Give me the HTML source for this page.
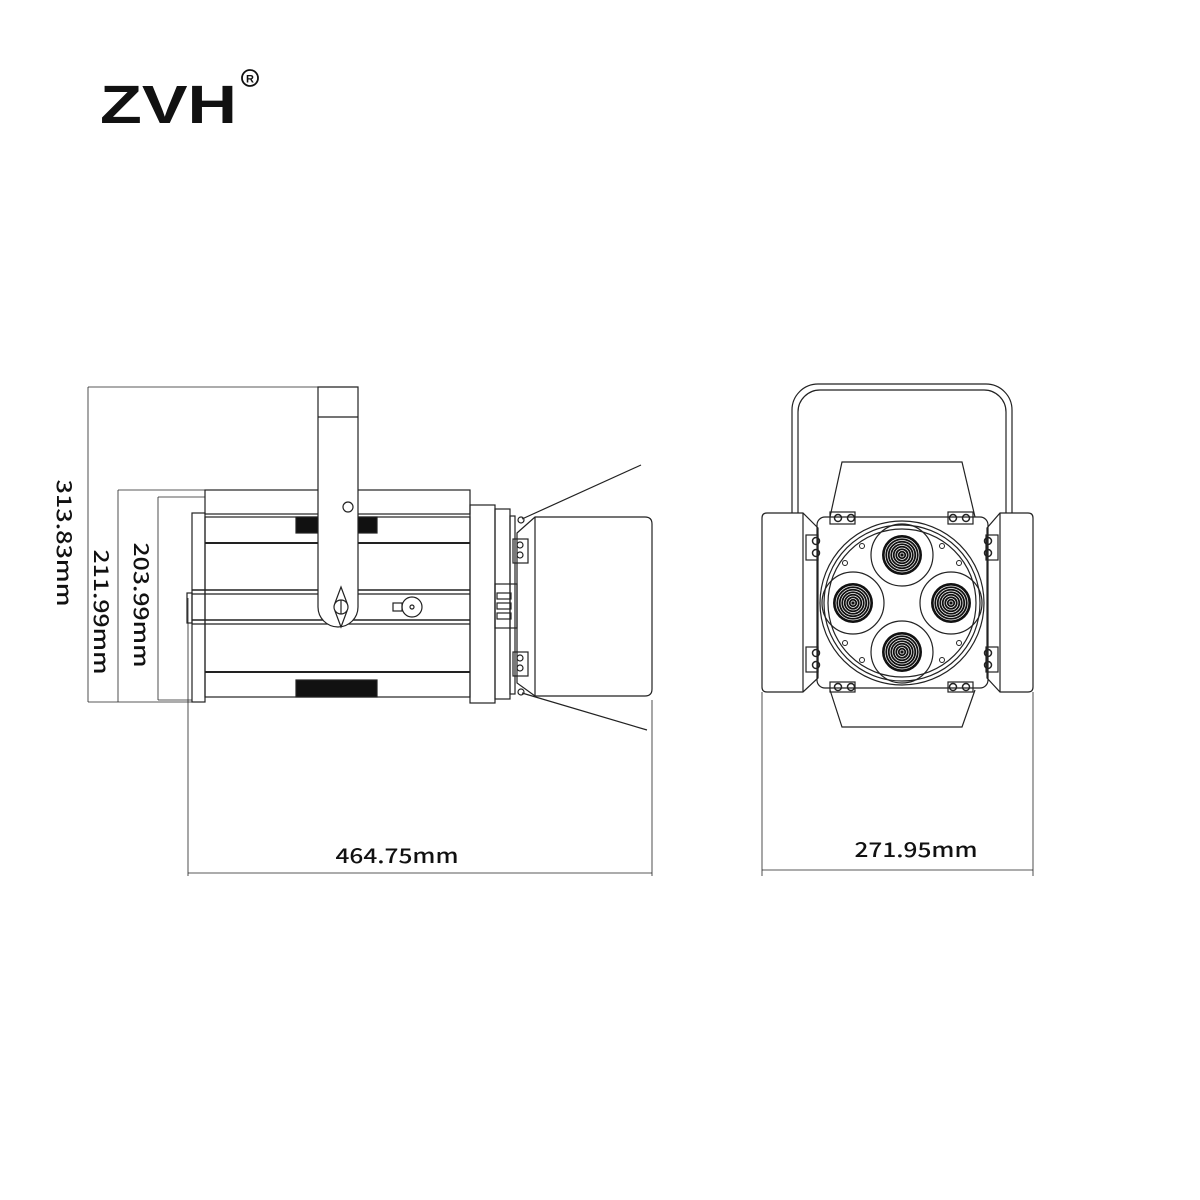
<!DOCTYPE html>
<html><head><meta charset="utf-8"><style>
html,body{margin:0;padding:0;background:#fff;width:1200px;height:1200px;overflow:hidden}
svg{display:block}
text{font-family:"Liberation Sans",sans-serif;fill:#111}
.d{font-family:"Noto Sans CJK SC","Liberation Sans",sans-serif;font-weight:500}
</style></head><body>
<svg width="1200" height="1200" viewBox="0 0 1200 1200" xmlns="http://www.w3.org/2000/svg">
<rect width="1200" height="1200" fill="#fff"/>
<!-- logo -->
<text x="100" y="123" font-size="54" font-weight="bold" textLength="137" lengthAdjust="spacingAndGlyphs">ZVH</text>
<circle cx="250" cy="78" r="8" fill="none" stroke="#111" stroke-width="1.8"/>
<text x="250" y="82.5" font-size="11" font-weight="bold" text-anchor="middle">R</text>

<g fill="none" stroke="#222" stroke-width="1.2">
<line x1="88" y1="387" x2="318" y2="387" stroke-width="0.8"/>
<line x1="88" y1="387" x2="88" y2="702" stroke-width="0.8"/>
<line x1="88" y1="702" x2="192" y2="702" stroke-width="0.8"/>
<line x1="118" y1="490" x2="470" y2="490" stroke-width="0.8"/>
<line x1="118" y1="490" x2="118" y2="702" stroke-width="0.8"/>
<line x1="158" y1="497" x2="205" y2="497" stroke-width="0.8"/>
<line x1="158" y1="497" x2="158" y2="700" stroke-width="0.8"/>
<line x1="158" y1="700" x2="192" y2="700" stroke-width="0.8"/>
<line x1="188" y1="598" x2="188" y2="876" stroke-width="0.8"/>
<line x1="652" y1="700" x2="652" y2="876" stroke-width="0.8"/>
<line x1="188" y1="873" x2="652" y2="873" stroke-width="0.8"/>

<rect x="205" y="490" width="265" height="24"/>
<rect x="192" y="513" width="13" height="189"/>
<rect x="187" y="593" width="5" height="30"/>
<rect x="205" y="517" width="265" height="180"/>
<line x1="205" y1="543" x2="470" y2="543" stroke-width="2"/>
<line x1="192" y1="590" x2="470" y2="590" stroke-width="1.6"/>
<line x1="192" y1="594" x2="470" y2="594"/>
<line x1="192" y1="620" x2="470" y2="620" stroke-width="1.6"/>
<line x1="192" y1="624" x2="470" y2="624"/>
<line x1="205" y1="672" x2="470" y2="672" stroke-width="2"/>
<rect x="296" y="517" width="81" height="16" fill="#111"/>
<rect x="296" y="680" width="81" height="17" fill="#111"/>
<rect x="470" y="505" width="25" height="198"/>
<rect x="495" y="509" width="15" height="190"/>
<rect x="510" y="516" width="5" height="178"/>
<rect x="495" y="584" width="22" height="44"/>
<rect x="497" y="593" width="14" height="6"/>
<rect x="497" y="603" width="14" height="6"/>
<rect x="497" y="613" width="14" height="6"/>
<rect x="513" y="539" width="15" height="24"/>
<rect x="513" y="652" width="15" height="24"/>
<circle cx="520" cy="545" r="3"/><circle cx="520" cy="555" r="3"/>
<circle cx="520" cy="658" r="3"/><circle cx="520" cy="668" r="3"/>
<circle cx="521" cy="520" r="3"/><circle cx="521" cy="692" r="3"/>
<line x1="522" y1="519" x2="641" y2="465"/>
<line x1="522" y1="693" x2="647" y2="730"/>
<path d="M517 533 L535 517 L645 517 Q652 517 652 524 L652 689 Q652 696 645 696 L535 696 L517 683 Z"/>
<line x1="535" y1="517" x2="535" y2="696"/>
<path d="M318 387 L358 387 L358 607 A20 20 0 0 1 318 607 Z" fill="#fff"/>
<line x1="318" y1="417" x2="358" y2="417"/>
<circle cx="348" cy="507" r="5"/>
<path d="M341 587 L347 603 L347 611 L341 627 L335 611 L335 603 Z" fill="#fff"/>
<circle cx="341" cy="607" r="7" fill="#fff"/>
<line x1="341" y1="600" x2="341" y2="614"/>
<circle cx="412" cy="607" r="10"/>
<circle cx="412" cy="607" r="2"/>
<rect x="393" y="603" width="9" height="8"/>

<line x1="762" y1="692" x2="762" y2="876" stroke-width="0.8"/>
<line x1="1033" y1="692" x2="1033" y2="876" stroke-width="0.8"/>
<line x1="762" y1="870" x2="1033" y2="870" stroke-width="0.8"/>
<path d="M792 513 L792 410 A26 26 0 0 1 818 384 L986 384 A26 26 0 0 1 1012 410 L1012 513"/>
<path d="M798 513 L798 412 A22 22 0 0 1 820 390 L984 390 A22 22 0 0 1 1006 412 L1006 513"/>
<path d="M762 518 Q762 513 767 513 L803 513 L818 528 L818 678 L803 692 L767 692 Q762 692 762 687 Z"/>
<line x1="803" y1="513" x2="803" y2="692"/>
<path d="M1033 518 Q1033 513 1028 513 L1000 513 L987 528 L987 678 L1000 692 L1028 692 Q1033 692 1033 687 Z"/>
<line x1="1000" y1="513" x2="1000" y2="692"/>
<path d="M830 517 L842 462 L962 462 L975 517"/>
<path d="M830 690 L842 727 L962 727 L975 690"/>
<rect x="817" y="517" width="171" height="171" rx="8"/>
<circle cx="902" cy="603" r="82"/>
<circle cx="902" cy="603" r="78"/>
<circle cx="902" cy="603" r="74"/>
<circle cx="902" cy="555" r="31"/>
<circle cx="853" cy="603" r="31"/>
<circle cx="951" cy="603" r="31"/>
<circle cx="902" cy="652" r="31"/>
<rect x="830" y="512" width="25" height="12"/>
<rect x="948" y="512" width="25" height="12"/>
<rect x="830" y="682" width="25" height="10"/>
<rect x="948" y="682" width="25" height="10"/>
<rect x="806" y="535" width="12" height="25"/>
<rect x="806" y="647" width="12" height="25"/>
<rect x="986" y="535" width="12" height="25"/>
<rect x="986" y="647" width="12" height="25"/>
<g stroke-width="1.5">
<circle cx="838" cy="518" r="3.5"/><circle cx="851" cy="518" r="3.5"/>
<circle cx="953" cy="518" r="3.5"/><circle cx="966" cy="518" r="3.5"/>
<circle cx="838" cy="687" r="3.5"/><circle cx="851" cy="687" r="3.5"/>
<circle cx="953" cy="687" r="3.5"/><circle cx="966" cy="687" r="3.5"/>
<circle cx="816" cy="541" r="3.5"/><circle cx="816" cy="553" r="3.5"/>
<circle cx="816" cy="653" r="3.5"/><circle cx="816" cy="665" r="3.5"/>
<circle cx="988" cy="541" r="3.5"/><circle cx="988" cy="553" r="3.5"/>
<circle cx="988" cy="653" r="3.5"/><circle cx="988" cy="665" r="3.5"/>
</g>
<g stroke-width="1">
<circle cx="862" cy="546" r="2.5"/><circle cx="942" cy="546" r="2.5"/>
<circle cx="845" cy="563" r="2.5"/><circle cx="959" cy="563" r="2.5"/>
<circle cx="845" cy="643" r="2.5"/><circle cx="959" cy="643" r="2.5"/>
<circle cx="862" cy="660" r="2.5"/><circle cx="942" cy="660" r="2.5"/>
</g>
</g>
<defs>
<g id="lens">
<circle r="20" fill="#111"/>
<g fill="none" stroke="#fff" stroke-width="0.7">
<circle r="17"/><circle r="14.5"/><circle r="12"/><circle r="9.5"/><circle r="7"/><circle r="4.5"/><circle r="2"/>
</g>
</g>
</defs>
<use href="#lens" x="902" y="555"/>
<use href="#lens" x="853" y="603"/>
<use href="#lens" x="951" y="603"/>
<use href="#lens" x="902" y="652"/>

<text class="d" x="397" y="863" font-size="20" text-anchor="middle" textLength="123" lengthAdjust="spacingAndGlyphs">464.75mm</text>
<text class="d" x="916" y="857" font-size="20" text-anchor="middle" textLength="123" lengthAdjust="spacingAndGlyphs">271.95mm</text>
<text class="d" transform="translate(57,543) rotate(90)" font-size="20" text-anchor="middle" textLength="127" lengthAdjust="spacingAndGlyphs">313.83mm</text>
<text class="d" transform="translate(94,612) rotate(90)" font-size="20" text-anchor="middle" textLength="125" lengthAdjust="spacingAndGlyphs">211.99mm</text>
<text class="d" transform="translate(134,605) rotate(90)" font-size="20" text-anchor="middle" textLength="125" lengthAdjust="spacingAndGlyphs">203.99mm</text>
</svg>
</body></html>
